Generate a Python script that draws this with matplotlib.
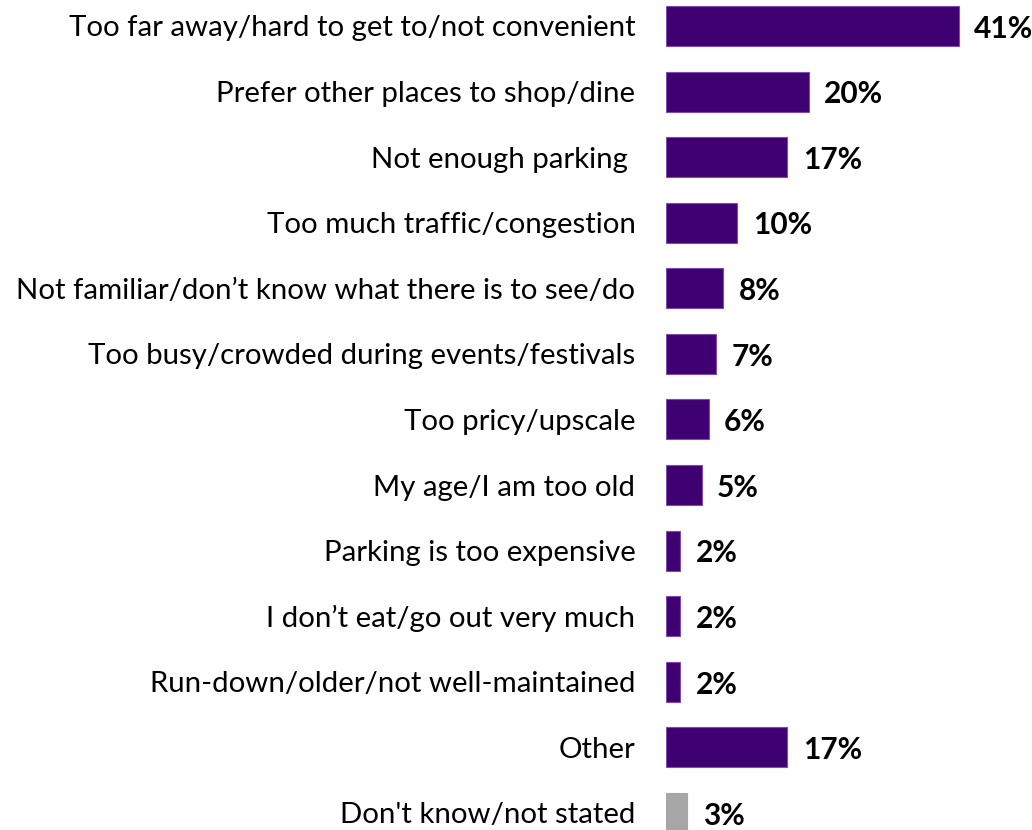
import matplotlib.pyplot as plt

reasons = [
    "Too far away/hard to get to/not convenient",
    "Prefer other places to shop/dine",
    "Not enough parking ",
    "Too much traffic/congestion",
    "Not familiar/don\u2019t know what there is to see/do",
    "Too busy/crowded during events/festivals",
    "Too pricy/upscale",
    "My age/I am too old",
    "Parking is too expensive",
    "I don\u2019t eat/go out very much",
    "Run-down/older/not well-maintained",
    "Other",
    "Don't know/not stated",
]
pct = [41, 20, 17, 10, 8, 7, 6, 5, 2, 2, 2, 17, 3]
colors = ["#3F0071"] * 12 + ["#A6A6A6"]
edges = ["#7B4BB0"] * 12 + ["#A6A6A6"]

plt.rcParams["font.family"] = ["Lato", "DejaVu Sans"]

fig = plt.figure(figsize=(10.32, 8.30), dpi=100)
# bars start at x=666px, 7.14 px per percent
ax = fig.add_axes([666 / 1032, 0, 357 / 1032, 1])

y = list(range(len(reasons)))
ax.barh(y, pct, height=0.61, color=colors, edgecolor=edges, linewidth=0.8)
ax.set_xlim(0, 50)
ax.set_ylim(12.26, -0.396)

ax.set_yticks(y)
ax.set_yticklabels(reasons, fontsize=21.2, color="black")
ax.tick_params(axis="y", length=0, pad=22)
ax.set_xticks([])
for s in ax.spines.values():
    s.set_visible(False)

for i, v in enumerate(pct):
    ax.annotate(f"{v}%", (v, i), xytext=(11, -2), textcoords="offset points",
                va="center", ha="left", fontsize=21.5, fontweight="bold")

fig.savefig("out.png", dpi=100)
